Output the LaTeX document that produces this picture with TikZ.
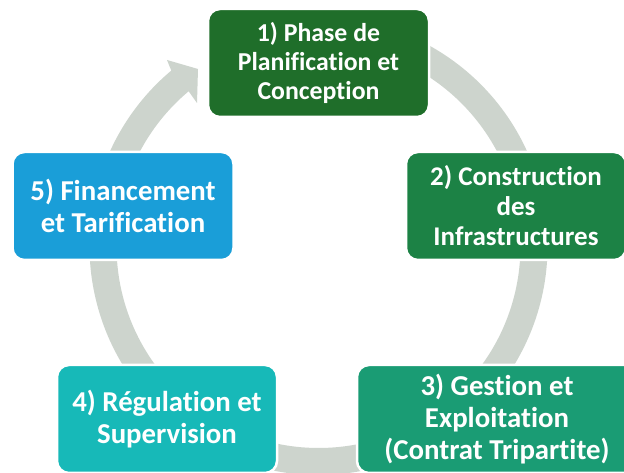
\documentclass[tikz,border=0pt]{standalone}
\usepackage{fontspec}
\setmainfont{Carlito}[Ligatures=NoCommon]
\usetikzlibrary{calc}
\definecolor{ringgrey}{HTML}{CDD4CD}
\definecolor{cA}{HTML}{1F6E2A}
\definecolor{cB}{HTML}{1C8245}
\definecolor{cC}{HTML}{1A9C74}
\definecolor{cD}{HTML}{17B9B8}
\definecolor{cE}{HTML}{1A9ED8}
\begin{document}
\begin{tikzpicture}[x=1pt,y=1pt,
  stagebox/.style={rounded corners=12pt, draw=white, line width=2.5pt,
    text=white, align=center, inner sep=0pt,
    minimum height=108pt},
  smalltext/.style={font=\fontsize{25.8}{29}\selectfont\bfseries},
  midtext/.style={font=\fontsize{27}{30}\selectfont\bfseries},
  bigtext/.style={font=\fontsize{28.8}{32}\selectfont\bfseries},
  ringfill/.style={fill=ringgrey}]
\useasboundingbox (0,0) rectangle (624,473);
\clip (0,0) rectangle (624,473);
\fill[white] (0,0) rectangle (624,473);
\coordinate (C) at (318.5,227);
% ring with arrow head
\fill[ringfill] ($(C)+(100:229)$) arc[start angle=100, end angle=-230, radius=229]
  -- (167,413) -- (198,404) -- (197,370)
  -- ($(C)+(130:202)$) arc[start angle=130, end angle=460, radius=202] -- cycle;
% stages
\node[stagebox, smalltext, fill=cA, minimum width=221pt] (s1) at (318.5,410) {1) Phase de\\Planification et\\Conception};
\node[stagebox, midtext, fill=cB, minimum width=220pt] (s2) at (516,267) {2) Construction\\des\\Infrastructures};
\node[stagebox, bigtext, fill=cC, minimum width=280pt] (s3) at (497,54) {3) Gestion et\\Exploitation\\(Contrat Tripartite)};
\node[stagebox, bigtext, fill=cD, minimum width=220pt] (s4) at (167,54) {4) Régulation et\\Supervision};
\node[stagebox, bigtext, fill=cE, minimum width=221pt] (s5) at (123,267) {5) Financement\\et Tarification};
\end{tikzpicture}
\end{document}
